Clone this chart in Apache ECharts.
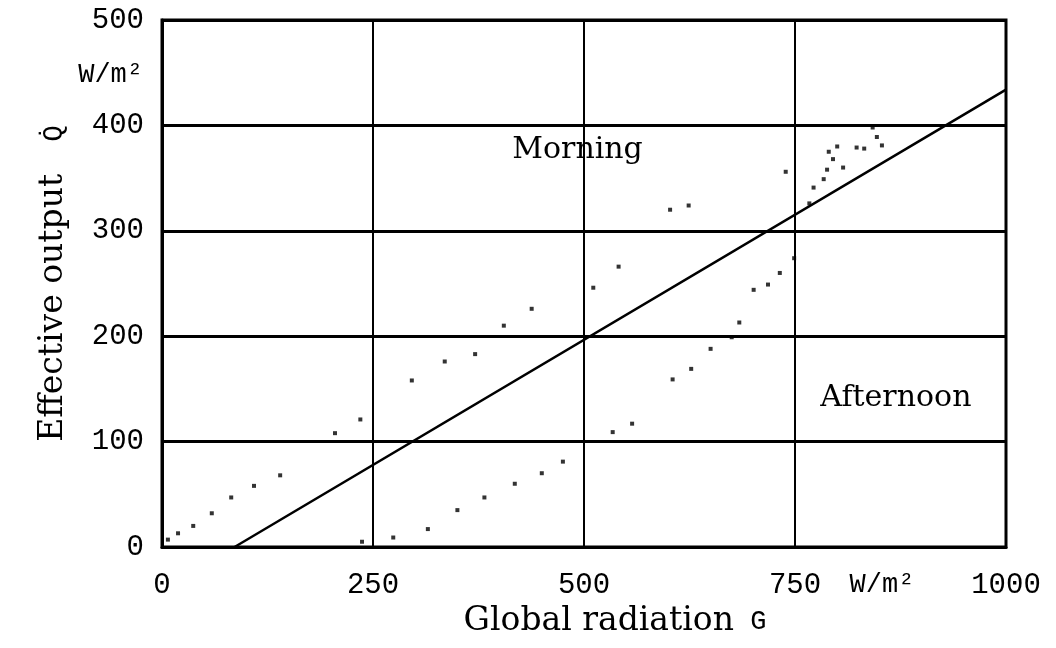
<!DOCTYPE html>
<html>
<head>
<meta charset="utf-8">
<script src="https://cdn.jsdelivr.net/npm/echarts@6/dist/echarts.min.js"></script>
<style>
  html, body { margin: 0; background: #fff; }
  #chart { width: 1056px; height: 648px; }
</style>
</head>
<body>
<div id="chart"></div>
<script>
// global radiation G (W/m²) vs effective output Q (W/m²)
const morningG = [7, 19, 37, 59, 82, 109, 140, 205, 235, 296, 335, 371, 405, 438, 511, 541, 602, 624, 739, 772, 784, 788, 790, 795, 800, 807, 823, 832, 842, 847, 853];
const morningQ = [7, 13, 20, 32, 47, 58, 68, 108, 121, 158, 176, 183, 210, 226, 246, 266, 320, 324, 356, 341, 349, 358, 375, 368, 380, 360, 379, 378, 398, 389, 381];
const afternoonG = [237, 274, 315, 350, 382, 418, 450, 475, 534, 557, 605, 627, 650, 675, 684, 701, 718, 732, 749, 767];
const afternoonQ = [5, 9, 17, 35, 47, 60, 70, 81, 109, 117, 159, 169, 188, 199, 213, 244, 249, 260, 274, 326];
// straight characteristic line
const lineG = [86, 1000];
const lineQ = [0, 434];

const xMax = 1000, xStep = 250;
const yMax = 500, yStep = 100;

const monoFont = '"Liberation Mono", "DejaVu Sans Mono", monospace';
const serifFont = '"DejaVu Serif", "Liberation Serif", serif';

function pairs(xs, ys) {
  return xs.map((x, i) => [x, ys[i]]);
}

const chart = echarts.init(document.getElementById('chart'));

const dotStyle = { color: '#000' };

chart.setOption({
  animation: false,
  backgroundColor: '#fff',
  grid: {
    left: 162, right: 50, top: 20, bottom: 101,
    show: true, borderColor: '#000', borderWidth: 3
  },
  xAxis: {
    type: 'value',
    min: 0, max: xMax, interval: xStep,
    axisLine: { lineStyle: { color: '#000', width: 3 } },
    axisTick: { show: false },
    splitLine: { lineStyle: { color: '#000', width: 2 } },
    axisLabel: {
      color: '#000', fontFamily: monoFont, fontSize: 29, margin: 24,
      formatter: v => String(v)
    },
    name: '{s|Global radiation}{g| G}',
    nameLocation: 'middle',
    nameGap: 50,
    nameTextStyle: {
      padding: [0, 0, 0, 62],
      rich: {
        s: { fontFamily: serifFont, fontSize: 33, color: '#000' },
        g: { fontFamily: monoFont, fontSize: 27, color: '#000' }
      }
    }
  },
  yAxis: {
    type: 'value',
    min: 0, max: yMax, interval: yStep,
    axisLine: { show: true, lineStyle: { color: '#000', width: 3 } },
    axisTick: { show: false },
    splitLine: { lineStyle: { color: '#000', width: 3 } },
    axisLabel: { color: '#000', fontFamily: monoFont, fontSize: 29, margin: 18 },
    name: '{s|Effective output}{q|  Q̇}',
    nameLocation: 'middle',
    nameGap: 92,
    nameTextStyle: {
      rich: {
        s: { fontFamily: serifFont, fontSize: 33, color: '#000' },
        q: { fontFamily: monoFont, fontSize: 27, color: '#000' }
      }
    }
  },
  series: [
    {
      name: 'line',
      type: 'line',
      data: pairs(lineG, lineQ),
      showSymbol: false,
      lineStyle: { color: '#000', width: 2.5 }
    },
    {
      name: 'Morning',
      type: 'scatter',
      data: pairs(morningG, morningQ),
      symbol: 'rect',
      symbolSize: 4,
      itemStyle: dotStyle
    },
    {
      name: 'Afternoon',
      type: 'scatter',
      data: pairs(afternoonG, afternoonQ),
      symbol: 'rect',
      symbolSize: 4,
      itemStyle: dotStyle
    }
  ]
});

// annotations placed at data coordinates
const morningPos = chart.convertToPixel({ gridIndex: 0 }, [415, 375]);
const afternoonPos = chart.convertToPixel({ gridIndex: 0 }, [780, 139]);
const xUnitPos = chart.convertToPixel({ gridIndex: 0 }, [853, 0]);
const yUnitPos = chart.convertToPixel({ gridIndex: 0 }, [0, 448]);

chart.setOption({
  graphic: [
    {
      type: 'text', left: morningPos[0], top: morningPos[1] - 17,
      style: { text: 'Morning', fontFamily: serifFont, fontSize: 30, fill: '#000' }
    },
    {
      type: 'text', left: afternoonPos[0], top: afternoonPos[1] - 17,
      style: { text: 'Afternoon', fontFamily: serifFont, fontSize: 30, fill: '#000' }
    },
    {
      type: 'text', x: xUnitPos[0], y: xUnitPos[1] + 38,
      style: { text: 'W/m²', fontFamily: monoFont, fontSize: 27, fill: '#000', align: 'center', verticalAlign: 'middle' }
    },
    {
      type: 'text', x: yUnitPos[0] - 19, y: yUnitPos[1],
      style: { text: 'W/m²', fontFamily: monoFont, fontSize: 27, fill: '#000', align: 'right', verticalAlign: 'middle' }
    }
  ]
});

window.addEventListener('resize', () => chart.resize());
</script>
</body>
</html>
